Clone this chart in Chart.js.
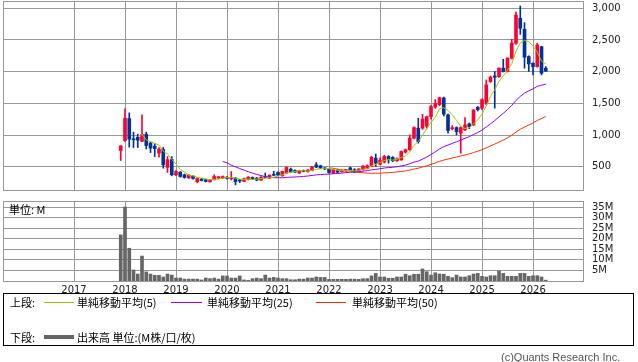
<!DOCTYPE html>
<html>
<head>
<meta charset="utf-8">
<script src="https://cdn.jsdelivr.net/npm/chart.js@4.4.1/dist/chart.umd.min.js"></script>
<style>
  body { margin: 0; background: #fff; width: 638px; height: 362px; position: relative; overflow: hidden; }
  canvas { position: absolute; left: 0; }
  #price { top: 0; }
  #vol { top: 201px; }
  .t { position: absolute; font: 11px "Noto Sans CJK JP", sans-serif; line-height: 14px; white-space: nowrap; color: #000; }
  .ln { position: absolute; height: 1px; }
  #legend { position: absolute; left: 3px; top: 293px; width: 629px; height: 51px; border: 1px solid #000; }
</style>
</head>
<body>
<canvas id="price" width="638" height="191"></canvas>
<canvas id="vol" width="638" height="95"></canvas>

<div class="t" style="left:9px;top:202px;">単位: M</div>

<div id="legend"></div>
<div class="t" style="left:10px;top:295px;">上段:</div>
<div class="ln" style="left:44px;top:302px;width:30px;background:#99cc00;"></div>
<div class="t" style="left:77px;top:295px;">単純移動平均(5)</div>
<div class="ln" style="left:171px;top:302px;width:31px;background:#9900ff;"></div>
<div class="t" style="left:207px;top:295px;">単純移動平均(25)</div>
<div class="ln" style="left:316px;top:302px;width:30px;background:#ff3300;"></div>
<div class="t" style="left:352px;top:295px;">単純移動平均(50)</div>
<div class="t" style="left:10px;top:330px;">下段:</div>
<div class="ln" style="left:44px;top:335px;width:30px;height:4px;background:#666;"></div>
<div class="t" style="left:77px;top:330px;">出来高 単位:(M株/口/枚)</div>
<div class="t" style="left:501px;top:350px;font-family:'Liberation Sans',sans-serif;color:#555;">(c)Quants Research Inc.</div>

<script>
// monthly candles, Dec 2017 .. Apr 2026
const firstMonth = '2017-12';
const opens = [756, 913, 1260, 935, 967, 900, 1014, 872, 825, 715, 772, 490, 615,
  373, 415, 373, 325, 352, 263, 305, 294, 263, 294, 320, 325,
  335, 310, 321, 290, 270, 300, 330, 320, 290, 340, 320, 380,
  410, 357, 400, 462, 440, 400, 440, 420, 441, 530, 515, 480,
  462, 400, 441, 420, 430, 483, 452, 430, 455, 473, 504, 636,
  540, 573, 662, 646, 594, 609, 730, 767, 951, 1109, 1109, 1140,
  1290, 1440, 1480, 1585, 1318, 1100, 1118, 1030, 1083, 1176, 1160, 1439,
  1424, 1503, 1843, 1933, 1922, 2055, 2003, 2212, 2448, 2843, 2669, 2238,
  2133, 2080, 2395, 2055];
const highs = [830, 1413, 1350, 1046, 1014, 1320, 1046, 888, 866, 803, 804, 660, 660,
  440, 425, 385, 375, 360, 325, 315, 300, 300, 373, 350, 355,
  345, 425, 330, 300, 320, 345, 340, 330, 345, 400, 375, 430,
  420, 430, 500, 480, 450, 445, 450, 455, 505, 567, 525, 490,
  470, 460, 465, 450, 460, 495, 470, 470, 520, 530, 665, 700,
  640, 680, 675, 660, 640, 750, 780, 1003, 1130, 1266, 1329, 1300,
  1470, 1560, 1600, 1600, 1330, 1150, 1130, 1130, 1276, 1190, 1400, 1450,
  1570, 1870, 1930, 2003, 2060, 2197, 2220, 2511, 2940, 3036, 2773, 2250,
  2140, 2448, 2400, 2080];
const lows = [598, 900, 810, 803, 803, 895, 780, 724, 661, 652, 478, 410, 357,
  360, 335, 320, 315, 305, 245, 275, 260, 255, 290, 310, 315,
  305, 290, 215, 250, 265, 290, 300, 280, 285, 320, 315, 360,
  360, 350, 395, 410, 405, 395, 420, 415, 435, 485, 470, 455,
  400, 390, 400, 415, 425, 435, 410, 425, 445, 465, 500, 504,
  530, 560, 557, 580, 585, 600, 715, 760, 940, 872, 1090, 1110,
  1250, 1420, 1460, 1300, 1030, 1080, 1003, 715, 1070, 1100, 1150, 1380,
  1400, 1480, 1830, 1424, 1910, 1995, 1995, 2200, 2430, 2590, 2055, 2003,
  1949, 2070, 1949, 2003];
const closes = [830, 1266, 935, 925, 920, 1010, 835, 794, 787, 778, 530, 610, 373,
  425, 346, 330, 368, 315, 315, 283, 267, 294, 346, 340, 345,
  315, 325, 267, 275, 310, 335, 310, 290, 335, 330, 365, 365,
  368, 425, 488, 420, 415, 441, 425, 450, 494, 494, 478, 465,
  410, 455, 415, 445, 455, 441, 420, 465, 510, 515, 650, 557,
  600, 662, 609, 594, 625, 740, 767, 951, 1118, 898, 1250, 1290,
  1450, 1500, 1590, 1330, 1071, 1109, 1055, 1118, 1160, 1134, 1397, 1400,
  1560, 1792, 1915, 1913, 2055, 2003, 2212, 2450, 2894, 2685, 2228, 2122,
  2080, 2422, 1976, 2010];
// volume, millions of shares
const volumes = [21.8, 35.0, 15.5, 5.2, 3.3, 11.8, 4.3, 3.3, 2.7, 2.7, 1.9, 3.3, 2.8,
  1.4, 1.4, 0.9, 0.9, 0.9, 0.9, 0.5, 1.4, 1.1, 1.4, 0.9, 2.4,
  2.4, 1.4, 1.4, 2.4, 0.5, 0.3, 1.1, 1.4, 1.1, 2.8, 1.4, 1.7,
  1.4, 1.1, 1.1, 0.6, 0.6, 0.9, 0.9, 1.4, 1.4, 1.9, 1.7, 1.7,
  0.8, 0.8, 0.8, 0.8, 0.8, 0.9, 0.9, 0.8, 1.1, 1.1, 2.4, 3.6,
  1.9, 1.9, 1.3, 1.3, 1.9, 1.9, 3.2, 2.5, 3.2, 3.2, 5.7, 4.4,
  2.8, 3.9, 3.3, 3.2, 2.2, 1.6, 2.8, 1.9, 1.9, 2.5, 3.3, 3.6,
  2.2, 1.9, 2.5, 2.5, 4.7, 3.6, 2.2, 2.2, 2.2, 3.6, 3.6, 2.2,
  2.5, 2.5, 1.9, 0.4];
const yearTicks = [2017, 2018, 2019, 2020, 2021, 2022, 2023, 2024, 2025, 2026];
const priceTicks = [500, 1000, 1500, 2000, 2500, 3000];
const volumeTicks = [5, 10, 15, 20, 25, 30, 35];
const maPeriods = [5, 25, 50];
const maColors = ['#99cc00', '#9900ff', '#ff3300'];

const UP = '#ff0033', DOWN = '#003399', GRID = '#999999';

// month index counted from Jan 2017
const [fy, fm] = firstMonth.split('-').map(Number);
const m0 = (fy - 2017) * 12 + fm - 1;
const xs = closes.map((_, i) => m0 + i);
const colors = closes.map((c, i) => c >= opens[i] ? UP : DOWN);

function sma(n) {
  const out = [];
  for (let i = n - 1; i < closes.length; i++) {
    let s = 0;
    for (let j = i - n + 1; j <= i; j++) s += closes[j];
    out.push({ x: xs[i], y: s / n });
  }
  return out;
}

const xMin = -16.706, xMax = 119.76;
const monthTicks = yearTicks.map(y => ({ value: (y - 2017) * 12 }));

const frame = {
  id: 'frame',
  afterDraw(chart) {
    const a = chart.chartArea, ctx = chart.ctx;
    ctx.save();
    ctx.strokeStyle = GRID;
    ctx.lineWidth = 1;
    ctx.strokeRect(a.left + 0.5, a.top + 0.5, a.right - a.left, a.bottom - a.top);
    ctx.restore();
  }
};

const tickFont = { family: 'DejaVu Sans', size: 10 };

// keep label overflow from pushing the plot area around
function noPad(s) {
  s.paddingTop = 0; s.paddingBottom = 0; s.paddingLeft = 0; s.paddingRight = 0;
}

function xAxis(showLabels, h) {
  return {
    type: 'linear', min: xMin, max: xMax, offset: false,
    afterBuildTicks: s => { s.ticks = monthTicks.map(t => ({ ...t })); },
    afterFit: s => { s.height = h; noPad(s); },
    ticks: {
      display: showLabels, color: '#222', font: tickFont, padding: 3,
      maxRotation: 0, autoSkip: false,
      callback: v => String(2017 + v / 12)
    },
    grid: { color: GRID, drawTicks: false, offset: false },
    border: { display: false }
  };
}

function yAxis(min, max, ticks, fmt) {
  return {
    position: 'right', min: min, max: max,
    afterBuildTicks: s => { s.ticks = ticks.map(v => ({ value: v })); },
    afterFit: s => { s.width = 55; noPad(s); },
    ticks: { color: '#222', font: tickFont, padding: 9, autoSkip: false, callback: fmt },
    grid: { color: GRID, drawTicks: false },
    border: { display: false }
  };
}

new Chart(document.getElementById('price'), {
  type: 'bar',
  data: {
    datasets: [
      ...maPeriods.map((n, k) => ({
        type: 'line', data: sma(n), borderColor: maColors[k], borderWidth: 1,
        pointRadius: 0, tension: 0, order: 0
      })),
      {
        data: xs.map((x, i) => ({ x: x, y: [lows[i], highs[i]] })),
        backgroundColor: colors, barThickness: 1, grouped: false, order: 2
      },
      {
        data: xs.map((x, i) => ({ x: x, y: [opens[i], closes[i]] })),
        backgroundColor: colors, barThickness: 3, minBarLength: 1, grouped: false, order: 1
      }
    ]
  },
  options: {
    responsive: false,
    animation: false,
    layout: { autoPadding: false, padding: { left: 3, top: 1, bottom: 1, right: 0 } },
    plugins: { legend: { display: false }, tooltip: { enabled: false } },
    scales: {
      x: xAxis(false, 0),
      y: yAxis(133, 3115, priceTicks, v => v.toLocaleString('en-US'))
    }
  },
  plugins: [frame]
});

new Chart(document.getElementById('vol'), {
  type: 'bar',
  data: {
    datasets: [{
      data: xs.map((x, i) => ({ x: x, y: volumes[i] })),
      backgroundColor: '#666666', barThickness: 3
    }]
  },
  options: {
    responsive: false,
    animation: false,
    layout: { autoPadding: false, padding: { left: 3, top: 0, bottom: 0, right: 0 } },
    plugins: { legend: { display: false }, tooltip: { enabled: false } },
    scales: {
      x: xAxis(true, 15),
      y: yAxis(0, 37.84, volumeTicks, v => v + 'M')
    }
  },
  plugins: [frame]
});
</script>
</body>
</html>
